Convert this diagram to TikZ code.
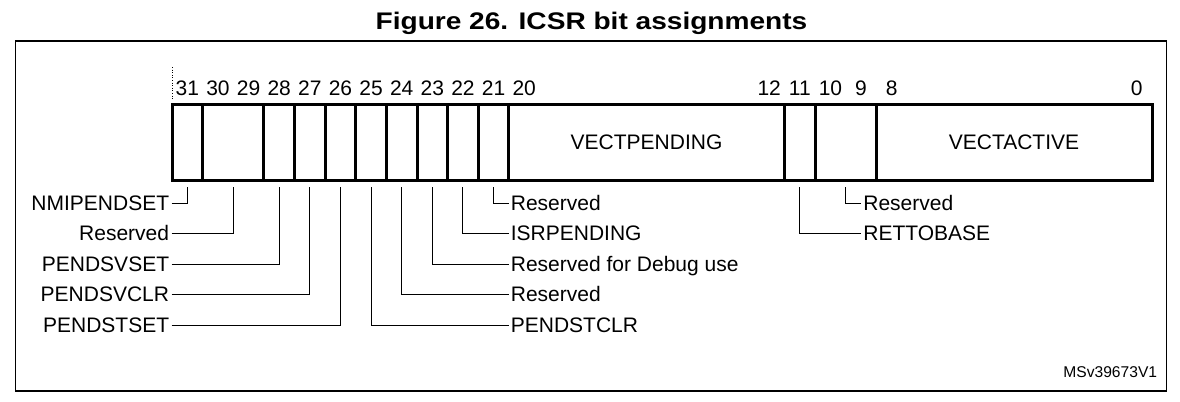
\documentclass[tikz,border=0pt]{standalone}
\usepackage{fontspec}
\setmainfont{Liberation Sans}
\usepackage{tikz}
\usetikzlibrary{positioning}
\tikzset{>=stealth}

\begin{document}
\begin{tikzpicture}[x=0.5pt, y=-0.5pt,
    regline/.style={line width=1.5pt},
    wire/.style={line width=0.5pt},
    frameline/.style={line width=0.7pt},
    lbl/.style={font=\fontsize{10.5pt}{12pt}\selectfont, text height=7.5pt, text depth=0pt, inner xsep=1pt, inner ysep=0pt},
    leftlabel/.style={lbl, anchor=east},
    rightlabel/.style={lbl, anchor=west},
    bitnum/.style={lbl, inner sep=0pt}]
    \useasboundingbox (0,0) rectangle (1180,402);
    \draw[frameline](15.5,41)rectangle(1166.5,391);
    \node[font=\bfseries\fontsize{12pt}{14pt}\selectfont, text height=8.6pt, text depth=0pt, inner sep=0pt] (title) at (591.5,20.8) {\scalebox{1.17}[1]{Figure 26. ICSR bit assignments}};
    \node[font=\fontsize{7.8pt}{9pt}\selectfont, text height=5.6pt, text depth=0pt, inner sep=0pt, anchor=east] (docid) at (1157.5,372) {MSv39673V1};
    
    % bit numbers
    \draw[densely dotted, line width=0.3pt](172,67)--(172,100);
    \foreach \b in {31,30,...,20,12,11,10,9,8,0}
        \node[bitnum] (n\b) at ({172+(31.5-\b)*30.625},88) {\b};
    
    % register
    \draw[regline](172,104)rectangle(1152,180);
    \foreach \k in {1,3,4,5,6,7,8,9,10,11,20,21,23}
        \draw[regline]({172+\k*30.625},104)--({172+\k*30.625},180);
    \node[lbl] (vectpending) at (646.5,142) {VECTPENDING};
    \node[lbl] (vectactive) at (1014,142) {VECTACTIVE};
    
    % fields on the left
    \foreach \n/\x/\r/\t in {nmipendset/187.3/203/NMIPENDSET, resa/233.3/233/Reserved, pendsvset/279.2/264/PENDSVSET, pendsvclr/309.8/294/PENDSVCLR, pendstset/340.4/325/PENDSTSET}
    {
        \node[leftlabel] (\n) at (171.5,\r) {\t};
        \coordinate (\n top) at (\x,187);
        \draw[wire](\n.east)-|(\n top);
    }
    
    % fields on the right
    \foreach \n/\x/\l/\r/\t in {resb/493.6/508.5/203/Reserved, isrpending/462.9/508.5/233/ISRPENDING, resdebug/432.3/508.5/264/Reserved for Debug use, resc/401.7/508.5/294/Reserved, pendstclr/371.1/508.5/325/PENDSTCLR, resd/845.7/861/203/Reserved, rettobase/799.8/861/233/RETTOBASE}
    {
        \node[rightlabel] (\n) at (\l,\r) {\t};
        \coordinate (\n top) at (\x,187);
        \draw[wire](\n.west)-|(\n top);
    }
    
\end{tikzpicture}
\end{document}
